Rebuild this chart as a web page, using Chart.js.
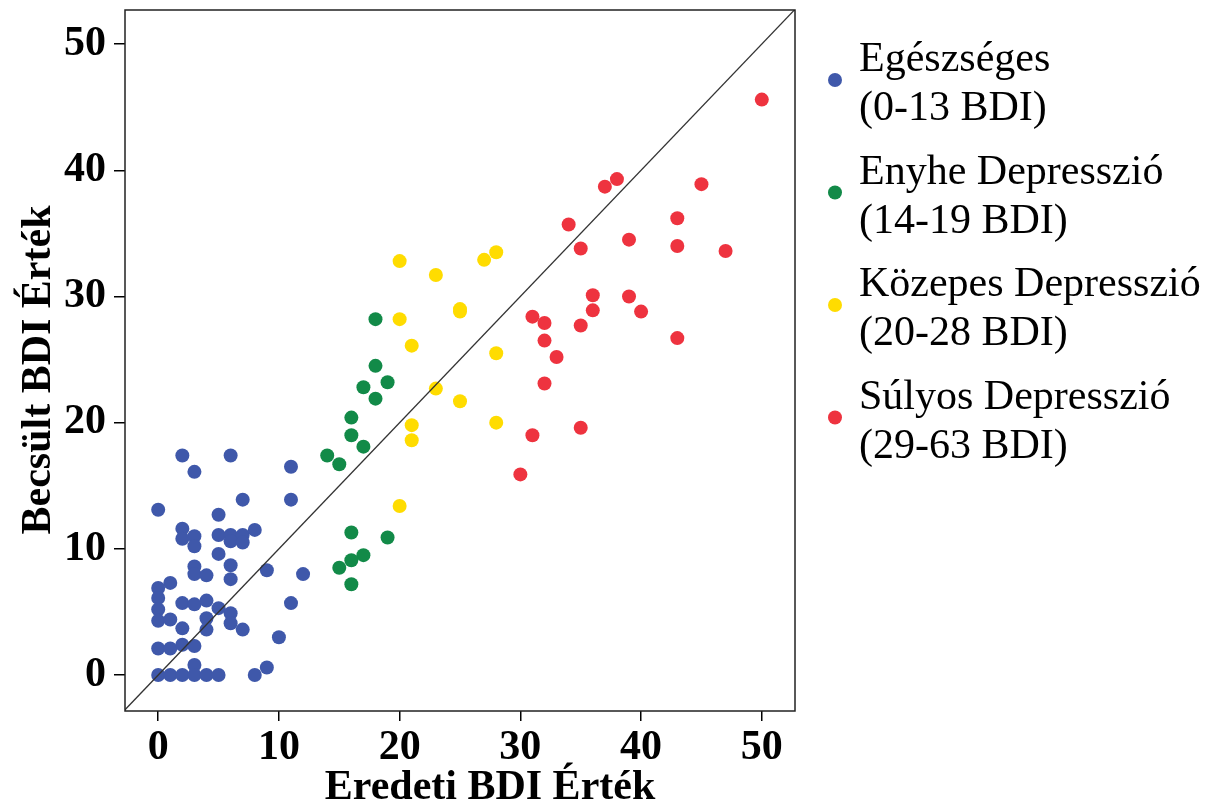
<!DOCTYPE html>
<html lang="hu">
<head>
  <meta charset="UTF-8">
  <title>Becsült vs. eredeti BDI érték</title>
  <script src="https://cdn.jsdelivr.net/npm/chart.js"></script>
  <style>
    * { margin: 0; padding: 0; box-sizing: border-box; }
    body { background: #fff; width: 1214px; height: 806px; overflow: hidden; }
    .chart-box { position: relative; width: 1214px; height: 806px; }
  </style>
</head>
<body>
  <div class="chart-box">
    <canvas id="bdiChart"></canvas>
  </div>

  <script>
    // pontok: [eredeti BDI, becsült BDI]
    const healthy = [
      [0, 13.1], [2, 17.4], [6, 17.4], [3, 16.1], [11, 16.5], [7, 13.9], [11, 13.9], [5, 12.7],
      [2, 11.6], [2, 10.8], [3, 11.0], [3, 10.2], [5, 11.1], [6, 11.1], [6, 10.6], [7, 11.1], [7, 10.5], [8, 11.5],
      [5, 9.6], [3, 8.6], [3, 8.0], [4, 7.9], [6, 8.7], [6, 7.6], [9, 8.3], [12, 8.0],
      [1, 7.3], [0, 6.9], [0, 6.1], [0, 5.2], [0, 4.3], [1, 4.4],
      [2, 5.7], [3, 5.6], [4, 5.9], [5, 5.3], [4, 4.5], [4, 3.6], [6, 4.9], [6, 4.1], [7, 3.6], [2, 3.7],
      [11, 5.7], [10, 3.0],
      [0, 2.1], [1, 2.1], [2, 2.4], [3, 2.3], [3, 0.8], [9, 0.6],
      [0, 0], [1, 0], [2, 0], [3, 0], [4, 0], [5, 0], [8, 0]
    ];
    const mild = [
      [18, 28.2], [18, 24.5], [19, 23.2], [17, 22.8], [18, 21.9], [16, 20.4], [16, 19.0], [17, 18.1],
      [14, 17.4], [15, 16.7], [16, 11.3], [19, 10.9], [17, 9.5], [16, 9.1], [15, 8.5], [16, 7.2]
    ];
    const moderate = [
      [20, 32.8], [23, 31.7], [27, 32.9], [28, 33.5], [20, 28.2], [25, 28.8], [25, 29.0], [21, 26.1],
      [28, 25.5], [23, 22.7], [25, 21.7], [21, 19.8], [21, 18.6], [28, 20.0], [20, 13.4]
    ];
    const severe = [
      [50, 45.6], [38, 39.3], [37, 38.7], [45, 38.9], [34, 35.7], [43, 36.2], [39, 34.5], [43, 34.0],
      [35, 33.8], [47, 33.6], [36, 30.1], [39, 30.0], [36, 28.9], [40, 28.8], [31, 28.4], [32, 27.9],
      [35, 27.7], [32, 26.5], [43, 26.7], [33, 25.2], [32, 23.1], [31, 19.0], [35, 19.6], [30, 15.9]
    ];

    const groupNames = ['Egészséges', 'Enyhe Depresszió', 'Közepes Depresszió', 'Súlyos Depresszió'];
    const groupRanges = ['(0-13 BDI)', '(14-19 BDI)', '(20-28 BDI)', '(29-63 BDI)'];
    const groupColors = ['#3f58aa', '#128a48', '#ffdc00', '#ee333f'];
    const groups = [healthy, mild, moderate, severe];

    const identityLine = [-3, 53];   // y = x
    const tickValues = [0, 10, 20, 30, 40, 50];
    const xTitle = 'Eredeti BDI Érték';
    const yTitle = 'Becsült BDI Érték';

    const serif = "'Liberation Serif', 'Times New Roman', serif";

    const toPoints = (arr) => arr.map(p => ({ x: p[0], y: p[1] }));

    // keret, tengelycímek és jelmagyarázat
    const decorPlugin = {
      id: 'decor',
      afterDraw(chart) {
        const { ctx, chartArea } = chart;
        ctx.save();
        ctx.strokeStyle = '#222';
        ctx.lineWidth = 1.5;
        ctx.strokeRect(chartArea.left, chartArea.top, chartArea.right - chartArea.left, chartArea.bottom - chartArea.top);

        ctx.fillStyle = '#000';
        ctx.font = 'bold 42px ' + serif;
        ctx.textAlign = 'center';
        ctx.textBaseline = 'alphabetic';
        ctx.fillText(xTitle, 490, 799);

        ctx.translate(50, 370);
        ctx.rotate(-Math.PI / 2);
        ctx.fillText(yTitle, 0, 0);
        ctx.restore();

        ctx.save();
        ctx.font = '42px ' + serif;
        ctx.textAlign = 'left';
        ctx.textBaseline = 'alphabetic';
        groupNames.forEach((name, i) => {
          const cy = 80 + i * 112.5;
          ctx.fillStyle = groupColors[i];
          ctx.beginPath();
          ctx.arc(835, cy, 7, 0, Math.PI * 2);
          ctx.fill();
          ctx.fillStyle = '#000';
          ctx.fillText(name, 859, cy - 9);
          ctx.fillText(groupRanges[i], 859, cy + 40);
        });
        ctx.restore();
      }
    };

    const scatterSets = groups.map((g, i) => ({
      type: 'scatter',
      label: groupNames[i],
      data: toPoints(g),
      backgroundColor: groupColors[i],
      borderWidth: 0,
      pointRadius: 7,
      pointHoverRadius: 7
    }));

    const tickStyle = { family: serif, size: 42, weight: 'bold' };

    new Chart(document.getElementById('bdiChart').getContext('2d'), {
      data: {
        datasets: [
          {
            type: 'line',
            label: 'y = x',
            data: identityLine.map(v => ({ x: v, y: v })),
            borderColor: '#333',
            borderWidth: 1.3,
            pointRadius: 0,
            fill: false
          },
          ...scatterSets
        ]
      },
      options: {
        responsive: true,
        maintainAspectRatio: false,
        animation: false,
        events: [],
        layout: { padding: { top: 10, right: 419, bottom: 0, left: 0 } },
        plugins: {
          legend: { display: false },
          tooltip: { enabled: false }
        },
        scales: {
          x: {
            type: 'linear',
            min: -2.75,
            max: 52.75,
            afterBuildTicks: (scale) => { scale.ticks = tickValues.map(v => ({ value: v })); },
            afterFit: (scale) => {
              scale.height = 95;
              scale.paddingLeft = 0;
              scale.paddingRight = 0;
            },
            grid: { display: true, drawOnChartArea: false, drawTicks: true, tickLength: 10, color: '#000', lineWidth: 1.5 },
            border: { display: false },
            ticks: { color: '#000', font: tickStyle, padding: 2, maxRotation: 0 }
          },
          y: {
            type: 'linear',
            min: -2.85,
            max: 52.7,
            afterBuildTicks: (scale) => { scale.ticks = tickValues.map(v => ({ value: v })); },
            afterFit: (scale) => {
              scale.width = 125;
              scale.paddingTop = 0;
              scale.paddingBottom = 0;
            },
            grid: { display: true, drawOnChartArea: false, drawTicks: true, tickLength: 11, color: '#000', lineWidth: 1.5 },
            border: { display: false },
            ticks: { color: '#000', font: tickStyle, padding: 8 }
          }
        }
      },
      plugins: [decorPlugin]
    });
  </script>
</body>
</html>
